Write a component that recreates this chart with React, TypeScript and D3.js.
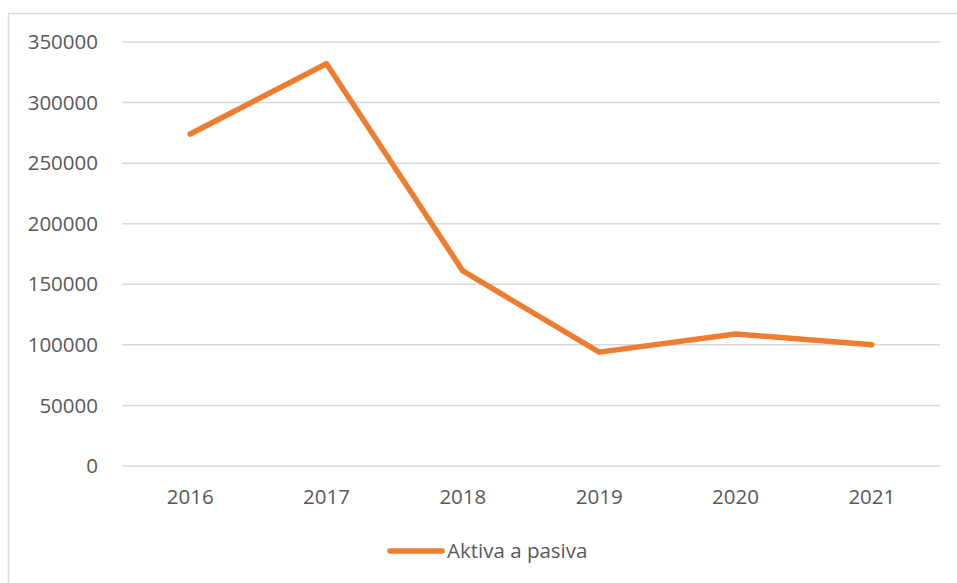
import React from "react";
import * as d3 from "d3";

const years = ["2016", "2017", "2018", "2019", "2020", "2021"];
const aktivaPasiva = [274000, 332000, 161000, 94000, 109000, 100000];
const yTickValues = [0, 50000, 100000, 150000, 200000, 250000, 300000, 350000];
const seriesName = "Aktiva a pasiva";

const WIDTH = 957;
const HEIGHT = 583;
const FONT = "'Open Sans', 'Noto Sans', sans-serif";
const FONT_SIZE = 20.5;
const TEXT_COLOR = "#595959";
const LINE_COLOR = "#ED7D31";

export default function App() {
    const margin = { top: 42, right: 17, bottom: 117, left: 122 };

    const x = d3.scaleBand<string>()
        .domain(years)
        .range([margin.left, WIDTH - margin.right]);

    const y = d3.scaleLinear([0, 350000], [HEIGHT - margin.bottom, margin.top]);

    const line = d3.line<number>()
        .x((d, i) => x(years[i])! + x.bandwidth() / 2)
        .y((d) => y(d));

    return <div style={{ position: "fixed", left: 0, top: 0 }}>
        <svg width={WIDTH} height={HEIGHT} style={{ display: "block", background: "white" }}>
            {/* chart area border, only top and left visible */}
            <rect x={8.5} y={13.5} width={WIDTH + 20} height={HEIGHT + 20}
                fill="none" stroke="#d9d9d9" strokeWidth={1.5} />

            <g name="yTicks">
                {yTickValues.map((tick) => (
                    <g key={tick}>
                        <line x1={margin.left} x2={WIDTH - margin.right}
                            y1={y(tick)} y2={y(tick)}
                            stroke="#d9d9d9" strokeWidth={1.5} />
                        <text x={98} y={y(tick)} dy="0.35em" textAnchor="end"
                            fontFamily={FONT} fontSize={FONT_SIZE} fill={TEXT_COLOR}>{tick}</text>
                    </g>
                ))}
            </g>

            <g name="xTicks">
                {years.map((yr) => (
                    <text key={yr} x={x(yr)! + x.bandwidth() / 2} y={504}
                        textAnchor="middle" fontFamily={FONT} fontSize={FONT_SIZE} fill={TEXT_COLOR}>{yr}</text>
                ))}
            </g>

            <path d={line(aktivaPasiva)!} fill="none" stroke={LINE_COLOR}
                strokeWidth={5.5} strokeLinecap="round" strokeLinejoin="round" />

            <g name="legend">
                <line x1={390} x2={442} y1={551} y2={551}
                    stroke={LINE_COLOR} strokeWidth={5.5} strokeLinecap="round" />
                <text x={447} y={558} fontFamily={FONT} fontSize={FONT_SIZE} fill={TEXT_COLOR}>{seriesName}</text>
            </g>
        </svg>
    </div>;
}
